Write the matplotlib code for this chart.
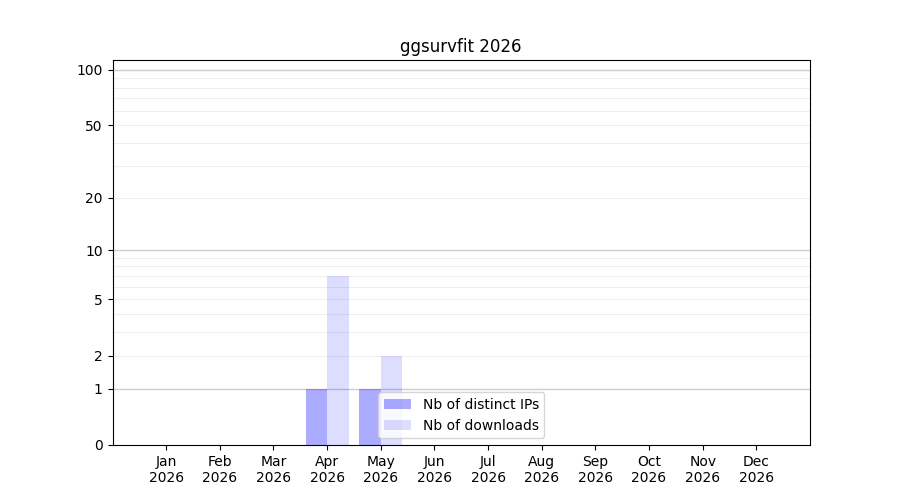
import matplotlib
matplotlib.use('agg')
import matplotlib.pyplot as plt
import numpy as np

# monthly stats
months = ['Jan', 'Feb', 'Mar', 'Apr', 'May', 'Jun',
          'Jul', 'Aug', 'Sep', 'Oct', 'Nov', 'Dec']
year = 2026
distinct_ips = [0, 0, 0, 1, 1, 0, 0, 0, 0, 0, 0, 0]
downloads = [0, 0, 0, 7, 2, 0, 0, 0, 0, 0, 0, 0]
ytick_values = [0, 1, 2, 5, 10, 20, 50, 100]
major_grid = [1, 10, 100]
minor_grid = [2, 3, 4, 5, 6, 7, 8, 9, 20, 30, 40, 50, 60, 70, 80, 90]

fig, ax = plt.subplots(figsize=(9, 5), dpi=100)

# log(1+x) scale so zero can sit on the axis
ax.set_yscale('function', functions=(lambda v: np.log10(1 + np.clip(v, 0, None)),
                                     lambda v: 10 ** v - 1))

x = np.arange(len(months))
w = 0.4
ax.bar(x - w / 2, distinct_ips, width=w, color='blue', alpha=0.33,
       label='Nb of distinct IPs', zorder=2)
ax.bar(x + w / 2, downloads, width=w, color='blue', alpha=0.135,
       label='Nb of downloads', zorder=2)

for v in major_grid:
    ax.axhline(v, color='#cccccc', lw=1, zorder=1)
for v in minor_grid:
    ax.axhline(v, color='#eeeeee', lw=0.8, zorder=1)

ax.set_ylim(0, 113)
ax.set_xlim(-1, 12)
ax.set_yticks(ytick_values)
ax.set_yticklabels([str(v) for v in ytick_values])
ax.yaxis.set_minor_locator(matplotlib.ticker.NullLocator())
ax.set_xticks(x)
ax.set_xticklabels([f'{m}\n{year}' for m in months])

ax.set_title(f'ggsurvfit {year}')
ax.legend(loc='lower center')

fig.savefig('out.png', dpi=100)
